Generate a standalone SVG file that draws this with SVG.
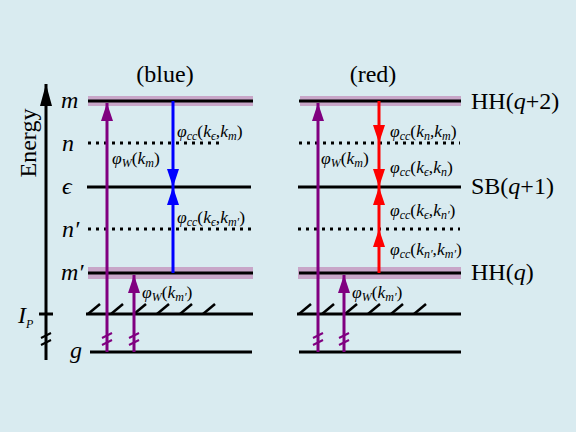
<svg xmlns="http://www.w3.org/2000/svg" width="576" height="432" viewBox="0 0 576 432">
<defs>
<style>
.lvl{stroke:#000;stroke-width:3;fill:none}
.dot{stroke:#000;stroke-width:3;stroke-dasharray:3 5;fill:none}
.band{fill:#c8a6c8}
.pur{stroke:#800080;stroke-width:3;fill:none}
.blu{stroke:#0000ff;stroke-width:3;fill:none}
.red{stroke:#ff0000;stroke-width:3;fill:none}
.hat{stroke:#000;stroke-width:2.5}
.brk{stroke:#800080;stroke-width:2}
text{font-family:"Liberation Serif","DejaVu Serif",serif;fill:#000}
.it{font-style:italic}
.big{font-size:24px}
.lab{font-size:17.5px}
.sub{font-size:12px;font-style:italic}
</style>
<marker id="ab" viewBox="0 0 18 12" refX="18" refY="6" markerWidth="18" markerHeight="12" markerUnits="userSpaceOnUse" orient="auto"><path d="M0,0 L18,6 L0,12 Z" fill="#0000ff"/></marker>
<marker id="ar" viewBox="0 0 18 12" refX="18" refY="6" markerWidth="18" markerHeight="12" markerUnits="userSpaceOnUse" orient="auto"><path d="M0,0 L18,6 L0,12 Z" fill="#ff0000"/></marker>
<marker id="apu" viewBox="0 0 18 12" refX="18" refY="6" markerWidth="18" markerHeight="12" markerUnits="userSpaceOnUse" orient="auto"><path d="M0,0 L18,6 L0,12 Z" fill="#800080"/></marker>
<marker id="ak" viewBox="0 0 22 12" refX="22" refY="6" markerWidth="22" markerHeight="12" markerUnits="userSpaceOnUse" orient="auto"><path d="M0,0 L22,6 L0,12 Z" fill="#000"/></marker>
</defs>
<rect width="576" height="432" fill="#d9ebf0"/>

<g id="axis">
<line x1="46" y1="360" x2="46" y2="84" stroke="#000" stroke-width="3" marker-end="url(#ak)"/>
<line x1="39" y1="314" x2="53" y2="314" stroke="#000" stroke-width="3"/>
<line x1="41" y1="338" x2="51" y2="333" stroke="#000" stroke-width="2"/>
<line x1="41" y1="345" x2="51" y2="340" stroke="#000" stroke-width="2"/>
<text class="big" transform="translate(36,143) rotate(-90)" text-anchor="middle">Energy</text>
<text class="big it" x="18" y="323">I<tspan class="sub" font-size="14" dy="5">P</tspan></text>
</g>

<g id="labels">
<text class="big it" x="61" y="108">m</text>
<text class="big it" x="62" y="151">n</text>
<text class="big it" x="62" y="194">ϵ</text>
<text class="big it" x="62" y="237">n′</text>
<text class="big it" x="61" y="280">m′</text>
<text class="big it" x="70" y="358">g</text>
<text class="big" x="165" y="82" text-anchor="middle">(blue)</text>
<text class="big" x="373" y="82" text-anchor="middle">(red)</text>
<text class="big" x="471" y="109">HH(<tspan class="it">q</tspan>+2)</text>
<text class="big" x="471" y="194">SB(<tspan class="it">q</tspan>+1)</text>
<text class="big" x="471" y="280">HH(<tspan class="it">q</tspan>)</text>
</g>

<g id="panel-blue">
<rect class="band" x="88" y="96" width="165" height="10"/>
<line class="lvl" x1="88" y1="101" x2="253" y2="101"/>
<line class="dot" x1="88" y1="143" x2="220" y2="143"/>
<line class="lvl" x1="87" y1="187" x2="251" y2="187"/>
<line class="dot" x1="88" y1="229" x2="252" y2="229"/>
<rect class="band" x="88" y="267" width="165" height="12"/>
<line class="lvl" x1="88" y1="273" x2="253" y2="273"/>
<line class="lvl" x1="86" y1="314" x2="253" y2="314"/>
<g class="hat">
<line x1="88" y1="314" x2="100" y2="304"/><line x1="111" y1="314" x2="123" y2="304"/><line x1="134" y1="314" x2="146" y2="304"/>
<line x1="157" y1="314" x2="169" y2="304"/><line x1="180" y1="314" x2="192" y2="304"/><line x1="203" y1="314" x2="215" y2="304"/>
</g>
<line class="lvl" x1="90" y1="352" x2="252" y2="352"/>
</g>

<g id="panel-red">
<rect class="band" x="300" y="96" width="161" height="10"/>
<line class="lvl" x1="299" y1="101" x2="461" y2="101"/>
<line class="dot" x1="299" y1="143" x2="460" y2="143"/>
<line class="lvl" x1="298" y1="187" x2="461" y2="187"/>
<line class="dot" x1="298" y1="229" x2="460" y2="229"/>
<rect class="band" x="298" y="267" width="163" height="12"/>
<line class="lvl" x1="299" y1="273" x2="461" y2="273"/>
<line class="lvl" x1="297" y1="314" x2="461" y2="314"/>
<g class="hat">
<line x1="299" y1="314" x2="311" y2="304"/><line x1="322" y1="314" x2="334" y2="304"/><line x1="345" y1="314" x2="357" y2="304"/>
<line x1="368" y1="314" x2="380" y2="304"/><line x1="391" y1="314" x2="403" y2="304"/><line x1="414" y1="314" x2="426" y2="304"/>
</g>
<line class="lvl" x1="299" y1="352" x2="461" y2="352"/>
</g>

<g id="connectors">
<line class="pur" x1="107" y1="352" x2="107" y2="103" marker-end="url(#apu)"/>
<line class="pur" x1="134" y1="352" x2="134" y2="275" marker-end="url(#apu)"/>
<line class="blu" x1="173" y1="101" x2="173" y2="187" marker-end="url(#ab)"/>
<line class="blu" x1="173" y1="273" x2="173" y2="187" marker-end="url(#ab)"/>
<line class="pur" x1="318" y1="352" x2="318" y2="103" marker-end="url(#apu)"/>
<line class="pur" x1="344" y1="352" x2="344" y2="275" marker-end="url(#apu)"/>
<line class="red" x1="379" y1="101" x2="379" y2="143" marker-end="url(#ar)"/>
<line class="red" x1="379" y1="143" x2="379" y2="187" marker-end="url(#ar)"/>
<line class="red" x1="379" y1="273" x2="379" y2="229" marker-end="url(#ar)"/>
<line class="red" x1="379" y1="229" x2="379" y2="187" marker-end="url(#ar)"/>
<g class="brk">
<line x1="102" y1="338" x2="112" y2="333"/><line x1="102" y1="345" x2="112" y2="340"/>
<line x1="129" y1="338" x2="139" y2="333"/><line x1="129" y1="345" x2="139" y2="340"/>
<line x1="313" y1="338" x2="323" y2="333"/><line x1="313" y1="345" x2="323" y2="340"/>
<line x1="339" y1="338" x2="349" y2="333"/><line x1="339" y1="345" x2="349" y2="340"/>
</g>
</g>

<g id="connector-labels" class="lab">
<text x="112" y="164"><tspan class="it">φ</tspan><tspan class="sub" dy="3">W</tspan><tspan dy="-3">(</tspan><tspan class="it">k</tspan><tspan class="sub" dy="3">m</tspan><tspan dy="-3">)</tspan></text>
<text x="177" y="137"><tspan class="it">φ</tspan><tspan class="sub" dy="3">cc</tspan><tspan dy="-3">(</tspan><tspan class="it">k</tspan><tspan class="sub" dy="3">ϵ</tspan><tspan dy="-3">,</tspan><tspan class="it">k</tspan><tspan class="sub" dy="3">m</tspan><tspan dy="-3">)</tspan></text>
<text x="177" y="223"><tspan class="it">φ</tspan><tspan class="sub" dy="3">cc</tspan><tspan dy="-3">(</tspan><tspan class="it">k</tspan><tspan class="sub" dy="3">ϵ</tspan><tspan dy="-3">,</tspan><tspan class="it">k</tspan><tspan class="sub" dy="3">m′</tspan><tspan dy="-3">)</tspan></text>
<text x="142" y="298"><tspan class="it">φ</tspan><tspan class="sub" dy="3">W</tspan><tspan dy="-3">(</tspan><tspan class="it">k</tspan><tspan class="sub" dy="3">m′</tspan><tspan dy="-3">)</tspan></text>
<text x="321" y="164"><tspan class="it">φ</tspan><tspan class="sub" dy="3">W</tspan><tspan dy="-3">(</tspan><tspan class="it">k</tspan><tspan class="sub" dy="3">m</tspan><tspan dy="-3">)</tspan></text>
<text x="390" y="137"><tspan class="it">φ</tspan><tspan class="sub" dy="3">cc</tspan><tspan dy="-3">(</tspan><tspan class="it">k</tspan><tspan class="sub" dy="3">n</tspan><tspan dy="-3">,</tspan><tspan class="it">k</tspan><tspan class="sub" dy="3">m</tspan><tspan dy="-3">)</tspan></text>
<text x="390" y="173"><tspan class="it">φ</tspan><tspan class="sub" dy="3">cc</tspan><tspan dy="-3">(</tspan><tspan class="it">k</tspan><tspan class="sub" dy="3">ϵ</tspan><tspan dy="-3">,</tspan><tspan class="it">k</tspan><tspan class="sub" dy="3">n</tspan><tspan dy="-3">)</tspan></text>
<text x="390" y="216"><tspan class="it">φ</tspan><tspan class="sub" dy="3">cc</tspan><tspan dy="-3">(</tspan><tspan class="it">k</tspan><tspan class="sub" dy="3">ϵ</tspan><tspan dy="-3">,</tspan><tspan class="it">k</tspan><tspan class="sub" dy="3">n′</tspan><tspan dy="-3">)</tspan></text>
<text x="390" y="255"><tspan class="it">φ</tspan><tspan class="sub" dy="3">cc</tspan><tspan dy="-3">(</tspan><tspan class="it">k</tspan><tspan class="sub" dy="3">n′</tspan><tspan dy="-3">,</tspan><tspan class="it">k</tspan><tspan class="sub" dy="3">m′</tspan><tspan dy="-3">)</tspan></text>
<text x="352" y="298"><tspan class="it">φ</tspan><tspan class="sub" dy="3">W</tspan><tspan dy="-3">(</tspan><tspan class="it">k</tspan><tspan class="sub" dy="3">m′</tspan><tspan dy="-3">)</tspan></text>
</g>
</svg>
